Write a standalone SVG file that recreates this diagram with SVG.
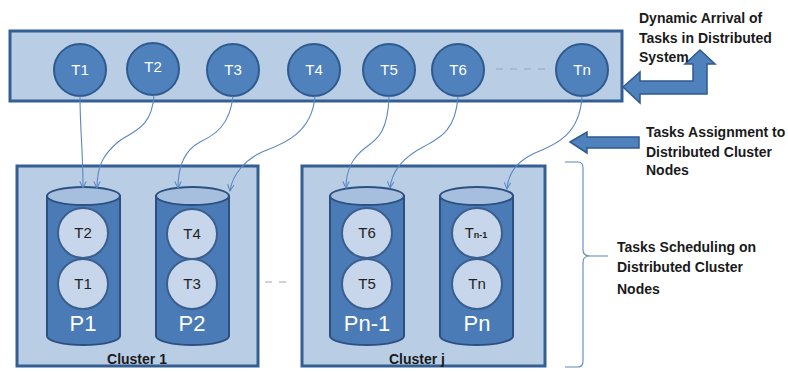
<svg xmlns="http://www.w3.org/2000/svg" width="788" height="372" viewBox="0 0 788 372">
<defs>
<style>
.band{fill:#b9cde5;stroke:#335f93;stroke-width:3}
.tc{fill:#4f81bd;stroke:#2f5a8e;stroke-width:2}
.tt{font-family:"Liberation Sans",Arial,sans-serif;font-size:15px;fill:#ffffff;text-anchor:middle}
.cl{fill:#b9cde5;stroke:#335f93;stroke-width:3}
.cyl{fill:#4a7bb7;stroke:#2c5080;stroke-width:2}
.cyltop{fill:#a7bfde;stroke:#2c5080;stroke-width:2}
.ic{fill:#c7d6eb;stroke:#3a5f8f;stroke-width:2}
.it{font-family:"Liberation Sans",Arial,sans-serif;font-size:15px;fill:#222;text-anchor:middle}
.pl{font-family:"Liberation Sans",Arial,sans-serif;font-size:22px;fill:#ffffff;text-anchor:middle}
.lbl{font-family:"Liberation Sans",Arial,sans-serif;font-size:14px;font-weight:bold;fill:#1a1a1a}
.cn{font-family:"Liberation Sans",Arial,sans-serif;font-size:14px;font-weight:bold;fill:#1a1a1a;text-anchor:middle}
.con{fill:none;stroke:#5b87c0;stroke-width:1.1}
.big{fill:#4f81bd;stroke:#2f5a8e;stroke-width:1.5}
.dash{fill:none;stroke:#9aa8b8;stroke-width:1.2;stroke-dasharray:7,7}
</style>
<marker id="ah" viewBox="0 0 10 10" refX="9" refY="5" markerWidth="8" markerHeight="8" orient="auto" markerUnits="userSpaceOnUse">
<path d="M1,1 L9,5 L1,9" fill="none" stroke="#5b87c0" stroke-width="1.3"/>
</marker>
</defs>
<rect width="788" height="372" fill="#ffffff"/>

<g id="arrival-band">
<rect class="band" x="10" y="31" width="612" height="70"/>
<line class="dash" x1="496" y1="69" x2="546" y2="69"/>
</g>

<g id="task-T1"><circle class="tc" cx="80" cy="70" r="26"/><text class="tt" x="80" y="75">T1</text></g>
<g id="task-T2"><circle class="tc" cx="153" cy="69" r="26"/><text class="tt" x="153" y="72">T2</text></g>
<g id="task-T3"><circle class="tc" cx="233" cy="70" r="26"/><text class="tt" x="233" y="75">T3</text></g>
<g id="task-T4"><circle class="tc" cx="314" cy="70" r="26"/><text class="tt" x="314" y="75">T4</text></g>
<g id="task-T5"><circle class="tc" cx="389" cy="70" r="26"/><text class="tt" x="389" y="75">T5</text></g>
<g id="task-T6"><circle class="tc" cx="458" cy="70" r="26"/><text class="tt" x="458" y="75">T6</text></g>
<g id="task-Tn"><circle class="tc" cx="582" cy="70" r="26"/><text class="tt" x="582" y="75">Tn</text></g>

<g id="arrival-arrow">
<path class="big" d="M623,87 L640,72 L640,81 L693,81 L693,64 L685,64 L700,50 L715,64 L707,64 L707,94 L640,94 L640,103 Z"/>
</g>
<g id="arrival-label">
<text class="lbl" x="639" y="23">Dynamic Arrival of</text>
<text class="lbl" x="639" y="43">Tasks in Distributed</text>
<text class="lbl" x="639" y="62">System</text>
</g>

<g id="assign-arrow">
<path class="big" d="M570,142 L587,132 L587,137 L639,137 L639,148 L587,148 L587,153 Z"/>
</g>
<g id="assign-label">
<text class="lbl" x="646" y="137">Tasks Assignment to</text>
<text class="lbl" x="646" y="157">Distributed Cluster</text>
<text class="lbl" x="646" y="175">Nodes</text>
</g>

<g id="cluster-1">
<rect class="cl" x="17" y="166" width="241" height="200"/>
<text class="cn" x="137" y="364">Cluster 1</text>
</g>
<g id="cluster-j">
<rect class="cl" x="302" y="166" width="243" height="200"/>
<text class="cn" x="417" y="364">Cluster j</text>
</g>
<g id="cluster-gap">
<line class="dash" x1="265" y1="282" x2="292" y2="282"/>
</g>

<g id="proc-P1">
<path class="cyl" d="M47,196 L47,336 A36.5,9 0 0 0 120,336 L120,196 Z"/>
<ellipse class="cyltop" cx="83.5" cy="196" rx="36.5" ry="9"/>
<circle class="ic" cx="83" cy="233" r="25"/><text class="it" x="83" y="238">T2</text>
<circle class="ic" cx="83" cy="284" r="25"/><text class="it" x="83" y="289">T1</text>
<text class="pl" x="83" y="331">P1</text>
</g>
<g id="proc-P2">
<path class="cyl" d="M156,196 L156,336 A36.5,9 0 0 0 229,336 L229,196 Z"/>
<ellipse class="cyltop" cx="192.5" cy="196" rx="36.5" ry="9"/>
<circle class="ic" cx="192" cy="234" r="25"/><text class="it" x="192" y="239">T4</text>
<circle class="ic" cx="192" cy="284" r="25"/><text class="it" x="192" y="289">T3</text>
<text class="pl" x="192" y="331">P2</text>
</g>
<g id="proc-Pn-1">
<path class="cyl" d="M330,196 L330,336 A37,9 0 0 0 404,336 L404,196 Z"/>
<ellipse class="cyltop" cx="367" cy="196" rx="37" ry="9"/>
<circle class="ic" cx="367" cy="233" r="25"/><text class="it" x="367" y="238">T6</text>
<circle class="ic" cx="367" cy="284" r="25"/><text class="it" x="367" y="289">T5</text>
<text class="pl" x="367" y="331">Pn-1</text>
</g>
<g id="proc-Pn">
<path class="cyl" d="M440,196 L440,336 A36.5,9 0 0 0 513,336 L513,196 Z"/>
<ellipse class="cyltop" cx="476.5" cy="196" rx="36.5" ry="9"/>
<circle class="ic" cx="477" cy="233" r="25"/><text class="it" x="476" y="238">T<tspan font-size="9" font-weight="bold">n-1</tspan></text>
<circle class="ic" cx="477" cy="284" r="25"/><text class="it" x="477" y="289">Tn</text>
<text class="pl" x="477" y="331">Pn</text>
</g>

<g id="connectors">
<path class="con" marker-end="url(#ah)" d="M80,96 C80,130 83,150 83,188"/>
<path class="con" marker-end="url(#ah)" d="M154,95 C152,130 130,132 118,142 C104,154 97,165 97,188"/>
<path class="con" marker-end="url(#ah)" d="M233,96 C230,125 215,135 200,142 C185,150 178,165 178,188"/>
<path class="con" marker-end="url(#ah)" d="M315,96 C312,135 280,145 262,152 C245,160 232,175 230,191"/>
<path class="con" marker-end="url(#ah)" d="M389,96 C388,135 375,140 365,148 C352,158 346,170 346,188"/>
<path class="con" marker-end="url(#ah)" d="M458,96 C456,130 440,138 425,146 C405,156 392,170 390,188"/>
<path class="con" marker-end="url(#ah)" d="M582,96 C580,135 555,145 535,153 C515,162 508,175 507,189"/>
</g>

<g id="schedule-brace">
<path class="con" d="M565,162 L578,162 Q583,162 583,168 L583,250 Q583,256 590,256 L608,256 M590,256 Q583,256 583,262 L583,361 Q583,367 578,367 L565,367"/>
</g>
<g id="schedule-label">
<text class="lbl" x="617" y="252">Tasks Scheduling on</text>
<text class="lbl" x="617" y="272">Distributed Cluster</text>
<text class="lbl" x="617" y="294">Nodes</text>
</g>
</svg>
